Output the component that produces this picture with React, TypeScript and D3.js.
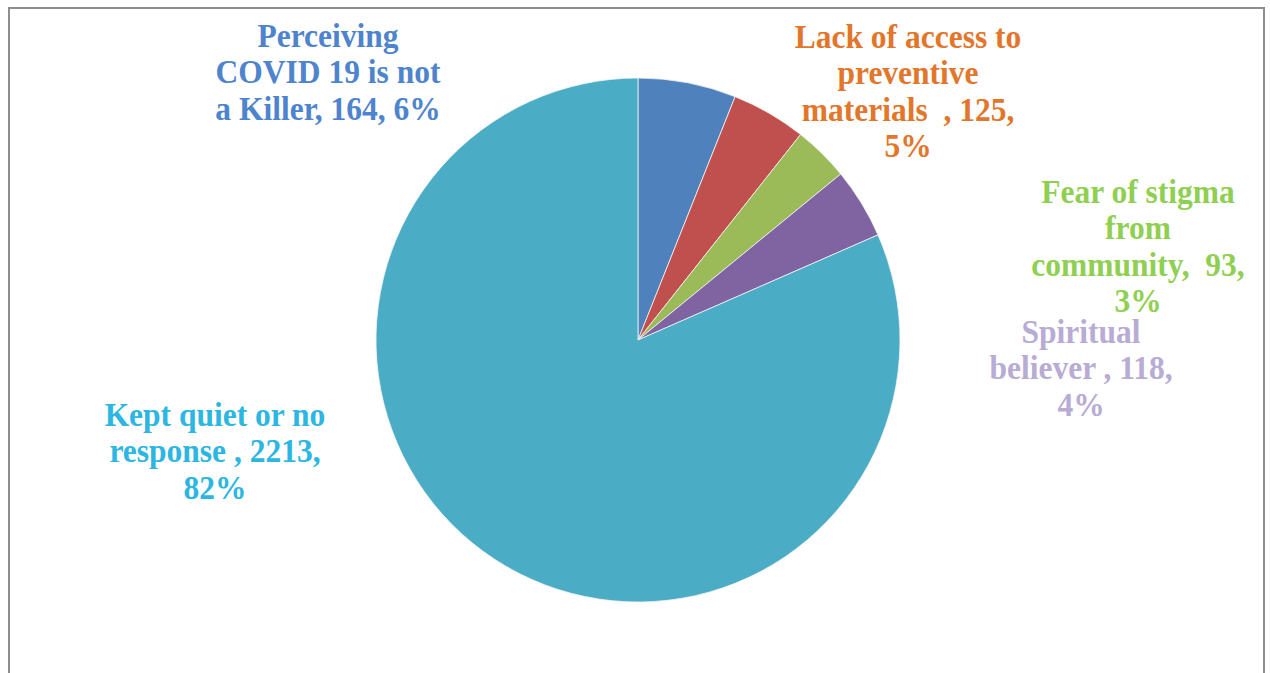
import React from "react";
import * as d3 from "d3";

const categories = [
  "Perceiving COVID 19 is not a Killer",
  "Lack of access to preventive materials",
  "Fear of stigma from community",
  "Spiritual believer",
  "Kept quiet or no response",
];
const values = [164, 125, 93, 118, 2213];
const percents = ["6%", "5%", "3%", "4%", "82%"];
const labelLines = [
  ["Perceiving", "COVID 19 is not", "a Killer, 164, 6%"],
  ["Lack of access to", "preventive", "materials  , 125,", "5%"],
  ["Fear of stigma", "from", "community,  93,", "3%"],
  ["Spiritual", "believer , 118,", "4%"],
  ["Kept quiet or no", "response , 2213,", "82%"],
];
const sliceColors = ["#4F81BD", "#C0504D", "#9BBB59", "#8064A2", "#4BACC6"];
const labelColors = ["#4E84CD", "#E2762A", "#8FCF52", "#B8ABD4", "#2DB6E2"];
// label anchor: center x, first baseline y
const labelAnchors: [number, number][] = [
  [328, 47],
  [908, 48],
  [1138, 203],
  [1081, 343],
  [215, 426],
];

export default function App() {
  const W = 1270;
  const H = 673;
  const cx = 638;
  const cy = 340;
  const r = 262;
  const lineH = 36.5;
  const sy = 1.07;

  const pie = d3
    .pie<number>()
    .sort(null)
    .value((d) => d)
    .startAngle(0)
    .endAngle(2 * Math.PI);
  const arcs = pie(values);
  const arc = d3.arc<d3.PieArcDatum<number>>().innerRadius(0).outerRadius(r);

  return (
    <svg
      width={W}
      height={H}
      style={{ position: "absolute", left: 0, top: 0, display: "block", background: "#fff" }}
    >
      <rect x={0} y={0} width={W} height={H} fill="#ffffff" />
      <rect x={9} y={8} width={1255} height={700} fill="none" stroke="#8e8e8e" strokeWidth={2} />
      <g transform={`translate(${cx},${cy})`}>
        {arcs.map((a, i) => (
          <path
            key={categories[i]}
            d={arc(a) || ""}
            fill={sliceColors[i]}
            stroke="#f4f4f4"
            strokeWidth={0.8}
          />
        ))}
      </g>
      {labelLines.map((lines, i) => (
        <g
          key={`lbl-${i}`}
          transform={`translate(${labelAnchors[i][0]},${labelAnchors[i][1]}) scale(1,${sy})`}
        >
          <text
            x={0}
            y={0}
            textAnchor="middle"
            fontFamily="'Liberation Serif', 'Times New Roman', serif"
            fontWeight="bold"
            fontSize={31.5}
            fill={labelColors[i]}
            data-value={values[i]}
            data-pct={percents[i]}
          >
            {lines.map((ln, j) => (
              <tspan key={j} x={0} y={(j * lineH) / sy} style={{ whiteSpace: "pre" }}>
                {ln}
              </tspan>
            ))}
          </text>
        </g>
      ))}
    </svg>
  );
}
